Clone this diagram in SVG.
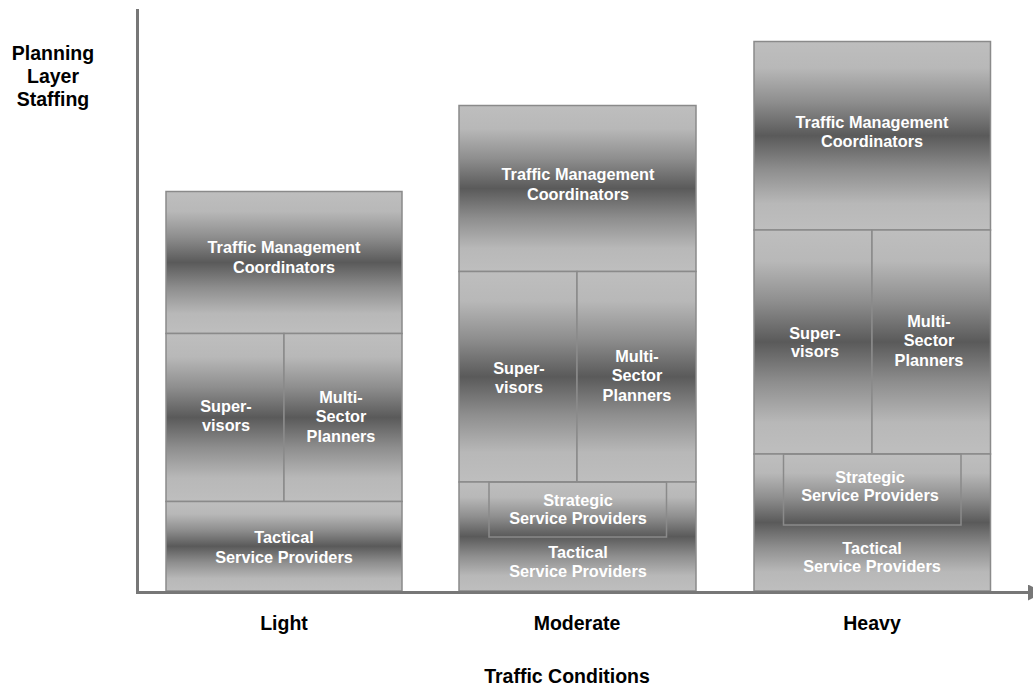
<svg xmlns="http://www.w3.org/2000/svg" width="1033" height="692" viewBox="0 0 1033 692">
  <defs>
    <!-- reflected grey shading used by every staffing cell -->
    <linearGradient id="cellShade" x1="0" y1="0" x2="0" y2="1">
      <stop offset="0" stop-color="#bebebe"/>
      <stop offset="0.14" stop-color="#b8b8b8"/>
      <stop offset="0.32" stop-color="#8e8e8e"/>
      <stop offset="0.5" stop-color="#5a5a5a"/>
      <stop offset="0.68" stop-color="#8e8e8e"/>
      <stop offset="0.86" stop-color="#b8b8b8"/>
      <stop offset="1" stop-color="#bebebe"/>
    </linearGradient>
    <marker id="axisHead" viewBox="0 0 10 10" refX="0" refY="5" markerWidth="16" markerHeight="16" markerUnits="userSpaceOnUse" orient="auto">
      <path d="M0,0 L10,5 L0,10 Z" fill="#777777"/>
    </marker>
  </defs>
  <style>
    .cell { fill: url(#cellShade); stroke: #8a8a8a; stroke-width: 1.5; }
    .frame { fill: none; stroke: #8a8a8a; stroke-width: 1.5; }
    .lbl { font-family: "Liberation Sans", Arial, sans-serif; font-weight: bold; font-size: 16.3px; fill: #ffffff; text-anchor: middle; }
    .axis-lbl { font-family: "Liberation Sans", Arial, sans-serif; font-weight: bold; font-size: 19.5px; fill: #000000; text-anchor: middle; }
    .axis { stroke: #777777; stroke-width: 3; fill: none; }
  </style>

  <rect width="1033" height="692" fill="#ffffff"/>

  <!-- Light traffic column -->
  <g id="light-tmc">
    <rect class="cell" x="166" y="191.5" width="236" height="142"/>
    <text class="lbl" x="284" y="253">Traffic Management</text>
    <text class="lbl" x="284" y="272.5">Coordinators</text>
  </g>
  <g id="light-supervisors">
    <rect class="cell" x="166" y="333.5" width="118" height="168"/>
    <text class="lbl" x="226" y="412">Super-</text>
    <text class="lbl" x="226" y="430.5">visors</text>
  </g>
  <g id="light-msp">
    <rect class="cell" x="284" y="333.5" width="118" height="168"/>
    <text class="lbl" x="341" y="402.5">Multi-</text>
    <text class="lbl" x="341" y="422">Sector</text>
    <text class="lbl" x="341" y="441.5">Planners</text>
  </g>
  <g id="light-tactical">
    <rect class="cell" x="166" y="501.5" width="236" height="89.5"/>
    <text class="lbl" x="284" y="543">Tactical</text>
    <text class="lbl" x="284" y="562.5">Service Providers</text>
  </g>

  <!-- Moderate traffic column -->
  <g id="moderate-tmc">
    <rect class="cell" x="459" y="105.5" width="237" height="166"/>
    <text class="lbl" x="578" y="180">Traffic Management</text>
    <text class="lbl" x="578" y="199.5">Coordinators</text>
  </g>
  <g id="moderate-supervisors">
    <rect class="cell" x="459" y="271.5" width="118" height="210.5"/>
    <text class="lbl" x="519" y="374">Super-</text>
    <text class="lbl" x="519" y="392.5">visors</text>
  </g>
  <g id="moderate-msp">
    <rect class="cell" x="577" y="271.5" width="119" height="210.5"/>
    <text class="lbl" x="637" y="362">Multi-</text>
    <text class="lbl" x="637" y="381">Sector</text>
    <text class="lbl" x="637" y="400.5">Planners</text>
  </g>
  <g id="moderate-tactical">
    <rect class="cell" x="459" y="482" width="237" height="109"/>
    <text class="lbl" x="578" y="557.5">Tactical</text>
    <text class="lbl" x="578" y="576.5">Service Providers</text>
  </g>
  <g id="moderate-strategic">
    <rect class="frame" x="489" y="482" width="177.5" height="55"/>
    <text class="lbl" x="578" y="505.5">Strategic</text>
    <text class="lbl" x="578" y="523.5">Service Providers</text>
  </g>

  <!-- Heavy traffic column -->
  <g id="heavy-tmc">
    <rect class="cell" x="754" y="41.5" width="236.5" height="188.5"/>
    <text class="lbl" x="872" y="127.5">Traffic Management</text>
    <text class="lbl" x="872" y="147">Coordinators</text>
  </g>
  <g id="heavy-supervisors">
    <rect class="cell" x="754" y="230" width="118" height="224"/>
    <text class="lbl" x="815" y="338.5">Super-</text>
    <text class="lbl" x="815" y="357">visors</text>
  </g>
  <g id="heavy-msp">
    <rect class="cell" x="872" y="230" width="118.5" height="224"/>
    <text class="lbl" x="929" y="326.5">Multi-</text>
    <text class="lbl" x="929" y="346">Sector</text>
    <text class="lbl" x="929" y="365.5">Planners</text>
  </g>
  <g id="heavy-tactical">
    <rect class="cell" x="754" y="454" width="236.5" height="137"/>
    <text class="lbl" x="872" y="553.5">Tactical</text>
    <text class="lbl" x="872" y="572">Service Providers</text>
  </g>
  <g id="heavy-strategic">
    <rect class="frame" x="783.5" y="454" width="177.5" height="71"/>
    <text class="lbl" x="870" y="482.5">Strategic</text>
    <text class="lbl" x="870" y="501">Service Providers</text>
  </g>

  <!-- axes -->
  <g id="connectors">
    <line class="axis" x1="137.5" y1="9" x2="137.5" y2="593.5"/>
    <line class="axis" x1="136" y1="592.5" x2="1028" y2="592.5" marker-end="url(#axisHead)"/>
  </g>

  <!-- axis titles -->
  <g id="axis-labels">
    <text class="axis-lbl" x="53" y="60">Planning</text>
    <text class="axis-lbl" x="53" y="83">Layer</text>
    <text class="axis-lbl" x="53" y="106">Staffing</text>
    <text class="axis-lbl" x="284" y="630">Light</text>
    <text class="axis-lbl" x="577" y="630">Moderate</text>
    <text class="axis-lbl" x="872" y="630">Heavy</text>
    <text class="axis-lbl" x="567" y="683">Traffic Conditions</text>
  </g>
</svg>
